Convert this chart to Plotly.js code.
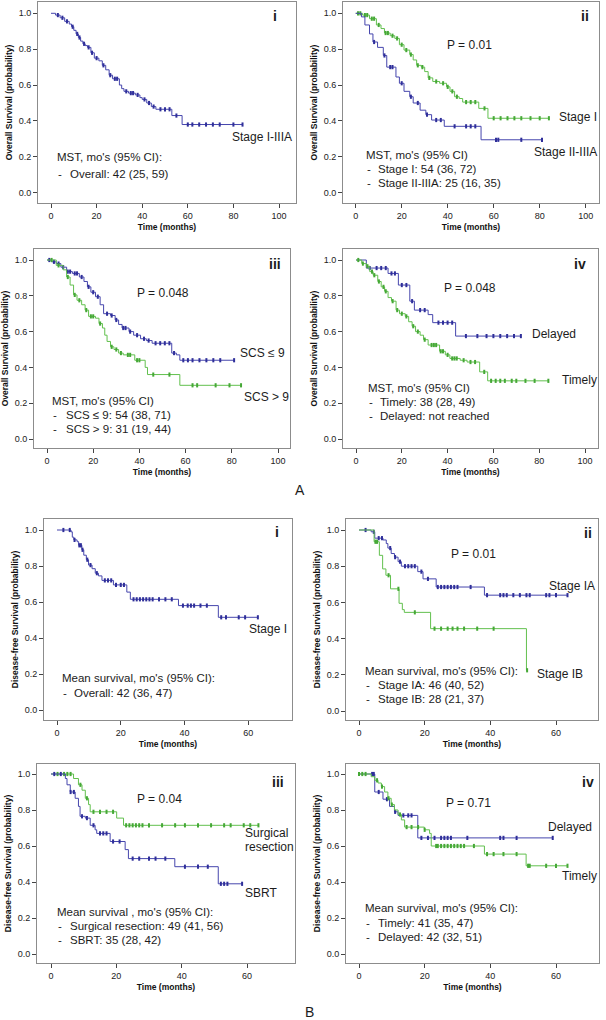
<!DOCTYPE html>
<html><head><meta charset="utf-8">
<script src="https://cdn.plot.ly/plotly-3.0.1.min.js"></script>
<style>body{margin:0;padding:0;background:#fff}#chart{width:606px;height:1020px}</style>
</head><body><div id="chart"></div>
<script>
// ---------- DATA ----------
// A-i Overall survival, Stage I-IIIA
const a1_all_t = [0, 2, 4, 6, 8, 9, 10, 11, 12, 13, 14, 15, 16, 17.5, 19, 21, 22.5, 24, 25.5, 27, 30, 31, 32, 34, 37, 39, 40, 42, 44, 46, 53, 57.5];
const a1_all_s = [1.0, 0.99, 0.975, 0.955, 0.94, 0.925, 0.905, 0.885, 0.865, 0.845, 0.83, 0.82, 0.81, 0.78, 0.75, 0.735, 0.71, 0.685, 0.655, 0.635, 0.60, 0.58, 0.565, 0.555, 0.545, 0.53, 0.52, 0.50, 0.48, 0.465, 0.43, 0.38];
const a1_all_c = [3, 5, 7, 9.5, 11.5, 12.5, 14.5, 16.5, 18, 20, 23, 26, 28, 29, 33, 35, 36, 38, 41, 43, 45, 48, 50, 52, 55, 60, 62, 65, 68, 71, 74, 80, 84];

// A-ii Stage I vs Stage II-IIIA
const a2_s1_t = [0, 3, 6, 9, 11, 12.5, 15, 17, 19, 21, 23.5, 25, 26.5, 28.5, 30, 31.5, 33.5, 36.5, 39.5, 41, 43, 45, 46.5, 53.5, 57.5];
const a2_s1_s = [1.0, 0.99, 0.97, 0.935, 0.915, 0.89, 0.875, 0.86, 0.825, 0.795, 0.77, 0.74, 0.71, 0.70, 0.675, 0.64, 0.62, 0.61, 0.59, 0.565, 0.535, 0.525, 0.505, 0.47, 0.415];
const a2_s1_c = [1, 2, 4, 5, 7, 8, 10, 13, 14, 16, 18, 20, 22, 24, 27, 29, 32, 35, 38, 40, 42, 44, 48, 50, 52, 56, 60, 63, 66, 69, 72, 76, 80, 84];
const a2_s2_t = [0, 2.5, 4, 6, 7.5, 9.5, 12, 13.5, 17.5, 19, 21, 23.5, 25, 28, 30.5, 33, 38.5, 54.5];
const a2_s2_s = [1.0, 0.98, 0.935, 0.885, 0.84, 0.81, 0.765, 0.70, 0.645, 0.61, 0.565, 0.535, 0.50, 0.46, 0.435, 0.405, 0.37, 0.295];
const a2_s2_c = [8, 12.5, 15, 16, 20, 24, 27, 31, 35, 37, 43, 48, 50, 52, 61, 62, 72, 81];

// A-iii SCS <= 9 vs SCS > 9
const a3_lo_t = [0, 2, 4, 6, 8.5, 11, 14, 16, 17.5, 19, 21, 23, 24.5, 27.5, 29.5, 31, 32.5, 35.5, 37.5, 40.5, 43, 45.5, 54, 56, 57.5];
const a3_lo_s = [1.0, 0.99, 0.98, 0.96, 0.935, 0.925, 0.905, 0.88, 0.85, 0.82, 0.795, 0.75, 0.70, 0.69, 0.665, 0.64, 0.62, 0.60, 0.58, 0.56, 0.55, 0.535, 0.48, 0.47, 0.44];
const a3_lo_c = [1, 3, 5, 7, 9, 10, 12, 13, 15, 18, 20, 22, 26, 28, 30, 33, 34, 36, 39, 42, 44, 47, 49, 51, 53, 55, 59, 61, 63, 66, 69, 72, 75, 81];
const a3_hi_t = [0, 4, 7, 8.5, 10, 11.5, 13, 15, 16.5, 18, 21, 22.5, 24, 25, 26, 27.5, 29, 31, 33, 38, 42.5, 43.5, 57.5];
const a3_hi_s = [1.0, 0.97, 0.945, 0.905, 0.86, 0.805, 0.775, 0.75, 0.72, 0.685, 0.675, 0.645, 0.62, 0.58, 0.545, 0.515, 0.50, 0.48, 0.47, 0.44, 0.40, 0.36, 0.30];
const a3_hi_c = [2, 5, 9, 12, 14, 17, 19, 20, 23, 28, 30, 32, 35, 36, 39, 40, 46, 53, 63, 65, 73, 79, 84];

// A-iv Delayed vs Timely
const a4_del_t = [0, 4.5, 14, 18.5, 23.5, 25.5, 31.5, 33.5, 43.5];
const a4_del_s = [1.0, 0.955, 0.925, 0.86, 0.77, 0.72, 0.695, 0.65, 0.575];
const a4_del_c = [6, 9, 11, 13, 15.5, 17, 20, 22, 24.5, 28, 30, 36, 38, 40, 42, 48, 53, 57, 60, 63, 66, 69, 72];
const a4_tim_t = [0, 2.5, 4.5, 6, 7.5, 9.5, 11, 12.5, 14, 15.5, 17.5, 19, 21.5, 23, 24.5, 26, 28, 29.5, 31.5, 36.5, 39, 41, 45.5, 48.5, 54, 57.5];
const a4_tim_s = [1.0, 0.98, 0.965, 0.935, 0.915, 0.88, 0.85, 0.825, 0.79, 0.77, 0.72, 0.70, 0.685, 0.655, 0.63, 0.60, 0.58, 0.555, 0.525, 0.49, 0.47, 0.45, 0.44, 0.43, 0.375, 0.325];
const a4_tim_c = [1, 3, 5, 7, 8, 10, 12, 13, 16, 18, 20, 22, 25, 27, 30, 33, 34, 35, 37, 38, 40, 42, 43, 44, 47, 50, 52, 56, 59, 61, 63, 65, 68, 70, 74, 78, 84];

// B-i Disease-free survival, Stage I
const b1_all_t = [0, 4.4, 4.8, 5.3, 6.3, 6.8, 7.8, 8.4, 9.2, 9.9, 11, 12, 13, 14.1, 17.7, 21.9, 23, 38.1, 50.6];
const b1_all_s = [1.0, 0.99, 0.96, 0.945, 0.935, 0.915, 0.89, 0.86, 0.835, 0.805, 0.785, 0.76, 0.745, 0.72, 0.695, 0.655, 0.615, 0.58, 0.515];
const b1_all_c = [2, 4, 5.5, 7, 7.5, 8, 9.5, 10.5, 12.5, 15, 16, 17, 18.5, 20, 21, 24, 25, 26, 27, 28, 29, 30, 32, 34, 36, 39.5, 41, 42, 43, 45, 47, 51.5, 53, 57, 59, 63];

// B-ii Stage IA vs Stage IB
const b2_ia_t = [0, 3.7, 4.8, 7.3, 8.3, 8.8, 9.8, 10.8, 11.9, 12.9, 17.9, 19.5, 23.5, 38.2];
const b2_ia_s = [1.0, 0.99, 0.955, 0.945, 0.925, 0.90, 0.87, 0.85, 0.825, 0.80, 0.77, 0.73, 0.685, 0.64];
const b2_ia_c = [2, 4.5, 6, 7, 9.5, 11, 12.5, 14, 15, 16, 17, 19, 21, 24, 25, 26, 27, 28, 29, 30, 34, 39, 43, 44, 45, 47, 49, 51, 52, 57, 58, 60, 63.5];
const b2_ib_t = [0, 4.6, 6.2, 7.2, 8.2, 9.6, 12.2, 13.2, 13.8, 21.8, 51];
const b2_ib_s = [1.0, 0.935, 0.86, 0.785, 0.75, 0.675, 0.595, 0.56, 0.545, 0.455, 0.225];
const b2_ib_c = [5, 5.5, 9, 12, 17, 23, 25, 27, 28.5, 30, 32, 36, 41, 51.2];

// B-iii Surgical resection vs SBRT
const b3_sur_t = [0, 6.9, 8.4, 9.5, 10.5, 11.5, 12, 20.1, 22.2];
const b3_sur_s = [1.0, 0.975, 0.94, 0.91, 0.865, 0.83, 0.79, 0.755, 0.715];
const b3_sur_c = [2, 4, 5, 6, 9, 11, 13, 15, 17, 19, 23, 24, 25, 26, 27, 28, 30, 34, 38, 41, 45, 49, 53, 55, 59, 61, 63.5];
const b3_sbrt_t = [0, 4.4, 4.9, 5.9, 7.4, 8.4, 8.9, 10.5, 12, 13.5, 14, 18.1, 22.7, 23.7, 37.9, 51.2];
const b3_sbrt_s = [1.0, 0.975, 0.94, 0.90, 0.865, 0.82, 0.765, 0.755, 0.715, 0.69, 0.67, 0.625, 0.58, 0.53, 0.485, 0.39];
const b3_sbrt_c = [1, 3, 6, 7, 9.5, 11, 13, 15, 16, 17, 19, 21, 25, 27, 30, 32, 35, 41, 45, 48, 52, 53, 54, 58.5];

// B-iv Delayed vs Timely
const b4_del_t = [0, 4.8, 7.3, 9.3, 10.8, 11.9, 17.9];
const b4_del_s = [1.0, 0.90, 0.86, 0.82, 0.79, 0.77, 0.645];
const b4_del_c = [4, 4.5, 6, 8.5, 11, 13.5, 15, 16, 19, 21, 23, 25, 26, 27, 28, 33, 43, 44, 48, 59];
const b4_tim_t = [0, 3.7, 4.8, 5.8, 6.8, 7.8, 8.8, 9.8, 10.8, 11.9, 12.9, 13.9, 19.9, 21.5, 22, 38.2, 50.9];
const b4_tim_s = [1.0, 0.985, 0.965, 0.95, 0.93, 0.90, 0.865, 0.83, 0.80, 0.775, 0.745, 0.705, 0.69, 0.67, 0.60, 0.555, 0.49];
const b4_tim_c = [0, 1, 2, 5.5, 7, 9, 10, 12.5, 14.5, 16, 18, 20, 23.5, 24, 25, 26, 27, 28, 29, 30, 31, 32, 35, 39, 41, 44, 48, 51.5, 52, 57, 60, 63.5];

// Tick labels
const xTicksA = [0, 20, 40, 60, 80, 100];
const xTicksB = [0, 20, 40, 60];
const yTicks = [0.0, 0.2, 0.4, 0.6, 0.8, 1.0];

// ---------- STYLE / LAYOUT ----------
const W = 606, H = 1020;
const BLUE = '#4646ad', BLUE_M = '#2f2f9a', GREEN = '#62c04e', GREEN_M = '#45a836';
const FONT = 'Liberation Sans, Arial, sans-serif';
const TXT = '#1c1c1c';
const px = x => x / W, py = y => 1 - y / H;

// pixel boxes [left, top, right, bottom] and tick calibration [x0px, xRefVal, xRefPx, y1px, y0px]
const panels = [
  {box:[38, 2, 296, 203],   cal:[51, 100, 279, 13.3, 192.7], ticks:xTicksA, ytitle:'Overall Survival (probability)'},
  {box:[343, 2, 599, 203],  cal:[355.7, 100, 585.7, 13.3, 192.7], ticks:xTicksA, ytitle:'Overall Survival (probability)'},
  {box:[34, 249, 290, 448], cal:[47, 100, 278, 260, 439], ticks:xTicksA, ytitle:'Overall Survival (probability)'},
  {box:[343, 249, 598, 448],cal:[356, 100, 585, 260, 439], ticks:xTicksA, ytitle:'Overall Survival (probability)'},
  {box:[44, 519, 292, 720], cal:[57, 60, 248.3, 530, 710], ticks:xTicksB, ytitle:'Disease-free Survival (probability)'},
  {box:[346, 519, 598, 720],cal:[359, 60, 556, 530, 711], ticks:xTicksB, ytitle:'Disease-free Survival (probability)'},
  {box:[37, 764, 295, 963], cal:[51, 60, 247, 774, 954], ticks:xTicksB, ytitle:'Disease-free Survival (probability)'},
  {box:[346, 764, 599, 963],cal:[359, 60, 556, 774, 954], ticks:xTicksB, ytitle:'Disease-free Survival (probability)'}
];

const layout = {
  width: W, height: H, margin: {l:0, r:0, t:0, b:0},
  paper_bgcolor: '#fff', plot_bgcolor: '#fff', showlegend: false,
  font: {family: FONT, color: TXT},
  annotations: []
};

panels.forEach((p, i) => {
  const [l, t, r, b] = p.box;
  const [x0, xv, xpx, y1, y0] = p.cal;
  const sx = (xpx - x0) / xv, sy = (y0 - y1);
  const k = i === 0 ? '' : String(i + 1);
  layout['xaxis' + k] = {
    domain: [px(l), px(r)], anchor: 'y' + k,
    range: [(l - x0) / sx, (r - x0) / sx],
    tickvals: p.ticks, ticks: 'outside', ticklen: 4, tickcolor: '#444', tickwidth: 1,
    showline: true, mirror: true, linecolor: '#8c8c8c', linewidth: 1,
    showgrid: false, zeroline: false, fixedrange: true,
    tickfont: {size: 9, color: '#222', family: FONT},
    title: {text: '<b>Time (months)</b>', font: {size: 8.5, color: '#111', family: FONT}, standoff: 4}
  };
  layout['yaxis' + k] = {
    domain: [py(b), py(t)], anchor: 'x' + k,
    range: [(y0 - b) / sy, (y0 - t) / sy],
    tickvals: yTicks, tickformat: '.1f', ticks: 'outside', ticklen: 4, tickcolor: '#444', tickwidth: 1,
    showline: true, mirror: true, linecolor: '#8c8c8c', linewidth: 1,
    showgrid: false, zeroline: false, fixedrange: true,
    tickfont: {size: 9, color: '#222', family: FONT},
    title: {text: '<b>' + p.ytitle + '</b>', font: {size: 8.5, color: '#111', family: FONT}, standoff: 4}
  };
});

const traces = [];
function km(panelIdx, times, surv, cens, color, mcolor, name) {
  const k = panelIdx === 0 ? '' : String(panelIdx + 1);
  const lastC = Math.max(...cens);
  const xs = times.slice(), ys = surv.slice();
  if (lastC > times[times.length - 1]) { xs.push(lastC); ys.push(surv[surv.length - 1]); }
  traces.push({x: xs, y: ys, type: 'scatter', mode: 'lines', line: {shape: 'hv', color: color, width: 1},
               xaxis: 'x' + k, yaxis: 'y' + k, name: name, hoverinfo: 'skip'});
  const cy = cens.map(c => { let v = surv[0]; for (let j = 0; j < times.length; j++) { if (times[j] <= c) v = surv[j]; } return v; });
  traces.push({x: cens, y: cy, type: 'scatter', mode: 'markers',
               marker: {symbol: 'line-ns-open', size: 3, color: mcolor, line: {color: mcolor, width: 2}},
               xaxis: 'x' + k, yaxis: 'y' + k, name: name + ' censored', hoverinfo: 'skip'});
}
km(0, a1_all_t, a1_all_s, a1_all_c, BLUE, BLUE_M, 'Stage I-IIIA');
km(1, a2_s1_t, a2_s1_s, a2_s1_c, GREEN, GREEN_M, 'Stage I');
km(1, a2_s2_t, a2_s2_s, a2_s2_c, BLUE, BLUE_M, 'Stage II-IIIA');
km(2, a3_lo_t, a3_lo_s, a3_lo_c, BLUE, BLUE_M, 'SCS ≤ 9');
km(2, a3_hi_t, a3_hi_s, a3_hi_c, GREEN, GREEN_M, 'SCS > 9');
km(3, a4_del_t, a4_del_s, a4_del_c, BLUE, BLUE_M, 'Delayed');
km(3, a4_tim_t, a4_tim_s, a4_tim_c, GREEN, GREEN_M, 'Timely');
km(4, b1_all_t, b1_all_s, b1_all_c, BLUE, BLUE_M, 'Stage I');
km(5, b2_ia_t, b2_ia_s, b2_ia_c, BLUE, BLUE_M, 'Stage IA');
km(5, b2_ib_t, b2_ib_s, b2_ib_c, GREEN, GREEN_M, 'Stage IB');
km(6, b3_sur_t, b3_sur_s, b3_sur_c, GREEN, GREEN_M, 'Surgical resection');
km(6, b3_sbrt_t, b3_sbrt_s, b3_sbrt_c, BLUE, BLUE_M, 'SBRT');
km(7, b4_del_t, b4_del_s, b4_del_c, BLUE, BLUE_M, 'Delayed');
km(7, b4_tim_t, b4_tim_s, b4_tim_c, GREEN, GREEN_M, 'Timely');

// ---------- TEXT ----------
function txt(text, x, y, size, anchor, bold) {
  layout.annotations.push({text: bold ? '<b>' + text + '</b>' : text, x: px(x), y: py(y), xref: 'paper', yref: 'paper',
    xanchor: anchor || 'left', yanchor: 'middle', showarrow: false, font: {size: size, color: TXT, family: FONT}});
}
function block(lines, xLeft, xText, ys) {
  txt(lines[0], xLeft, ys[0], 11.5);
  for (let i = 1; i < lines.length; i++) { txt('-', xLeft + 1, ys[i], 11.5); txt(lines[i], xText, ys[i], 11.5); }
}
// A-i
txt('i', 275, 16, 14, 'center', true);
txt('Stage I-IIIA', 230, 137, 12);
block(["MST, mo's (95% CI):", 'Overall: 42 (25, 59)'], 55, 68, [157, 174]);
// A-ii
txt('ii', 585, 16, 14, 'center', true);
txt('P = 0.01', 470, 45, 12, 'center');
txt('Stage I', 557, 117, 12);
txt('Stage II-IIIA', 532, 152, 12);
block(["MST, mo's (95% CI)", 'Stage I: 54 (36, 72)', 'Stage II-IIIA: 25 (16, 35)'], 364, 376, [155, 169, 183]);
// A-iii
txt('iii', 275, 264, 14, 'center', true);
txt('P = 0.048', 163, 293, 12, 'center');
txt('SCS ≤ 9', 238, 353, 12);
txt('SCS > 9', 242, 397, 12);
block(["MST, mo's (95% CI)", 'SCS ≤ 9: 54 (38, 71)', 'SCS > 9: 31 (19, 44)'], 50, 64, [401, 415, 429]);
// A-iv
txt('iv', 580, 264, 14, 'center', true);
txt('P = 0.048', 470, 288, 12, 'center');
txt('Delayed', 530, 334, 12);
txt('Timely', 560, 380, 12);
block(["MST, mo's (95% CI)", 'Timely: 38 (28, 49)', 'Delayed: not reached'], 366, 378, [388, 402, 416]);
// B-i
txt('i', 277, 532, 14, 'center', true);
txt('Stage I', 247, 629, 12);
block(["Mean survival, mo's (95% CI):", 'Overall: 42 (36, 47)'], 60, 72, [678, 693]);
// B-ii
txt('ii', 588, 533, 14, 'center', true);
txt('P = 0.01', 473, 554, 12, 'center');
txt('Stage IA', 547, 586, 12);
txt('Stage IB', 535, 674, 12);
block(["Mean survival, mo's (95% CI):", 'Stage IA: 46 (40, 52)', 'Stage IB: 28 (21, 37)'], 363, 376, [671, 685, 699]);
// B-iii
txt('iii', 278, 782, 14, 'center', true);
txt('P = 0.04', 160, 799, 12, 'center');
txt('Surgical', 243, 833, 12);
txt('resection', 243, 847, 12);
txt('SBRT', 243, 893, 12);
block(["Mean survival , mo's (95% CI):", 'Surgical resection: 49 (41, 56)', 'SBRT: 35 (28, 42)'], 55, 68, [912, 926, 940]);
// B-iv
txt('iv', 588, 782, 14, 'center', true);
txt('P = 0.71', 468, 803, 12, 'center');
txt('Delayed', 546, 827, 12);
txt('Timely', 560, 876, 12);
block(["Mean survival, mo's (95% CI):", 'Timely: 41 (35, 47)', 'Delayed: 42 (32, 51)'], 363, 376, [908, 923, 937]);
// Figure part labels
txt('A', 300, 490, 14, 'center');
txt('B', 309, 1012, 14, 'center');

Plotly.newPlot('chart', traces, layout, {displayModeBar: false, staticPlot: true});
</script></body></html>
